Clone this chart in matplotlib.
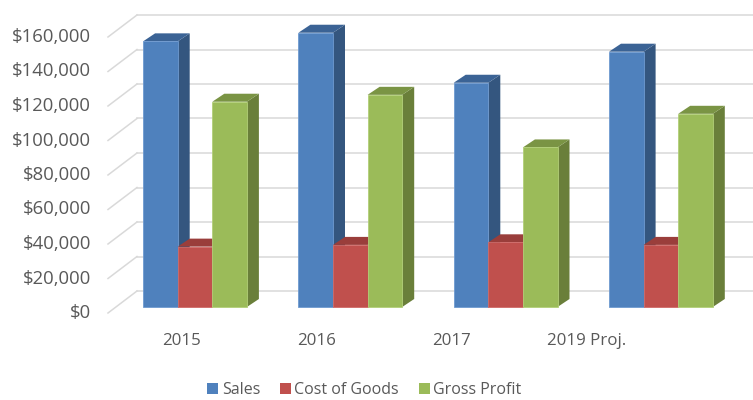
import matplotlib
matplotlib.use("Agg")
import matplotlib.pyplot as plt
from matplotlib.patches import Polygon, Patch

categories = ["2015", "2016", "2017", "2019 Proj."]
series_names = ["Sales", "Cost of Goods", "Gross Profit"]
sales = [154000, 159000, 130000, 148000]
cost_of_goods = [35000, 36000, 37500, 36000]
gross_profit = [119000, 123000, 92500, 112000]
y_ticks = [0, 20000, 40000, 60000, 80000, 100000, 120000, 140000, 160000]
y_tick_labels = ["$0", "$20,000", "$40,000", "$60,000", "$80,000",
                 "$100,000", "$120,000", "$140,000", "$160,000"]

series = [sales, cost_of_goods, gross_profit]
face_colors = ["#4F81BD", "#C0504D", "#9BBB59"]
side_colors = ["#34567F", "#8E3A38", "#6A7F3A"]
top_colors = ["#3B6395", "#9A3E3B", "#7A9444"]
edge_colors = ["#6F9AD0", "#D06A67", "#B2CF78"]

W, H = 753, 400
fig = plt.figure(figsize=(W / 100, H / 100), dpi=100)
ax = fig.add_axes([0, 0, 1, 1])
ax.set_axis_off()

PX_PER_UNIT = 155.3
PX_PER_DOLLAR = 1.725 / 1000
X0_PX = 195
Y0_PX = 307
ax.set_xlim(-X0_PX / PX_PER_UNIT, (W - X0_PX) / PX_PER_UNIT)
ax.set_ylim(-(H - Y0_PX) / PX_PER_DOLLAR, Y0_PX / PX_PER_DOLLAR)

def px_dx(p):
    return p / PX_PER_UNIT

def px_dy(p):
    return p / PX_PER_DOLLAR

back_x0 = px_dx(137 - X0_PX)
front_x0 = px_dx(108 - X0_PX)
back_off = px_dy(Y0_PX - 291)
front_off = px_dy(Y0_PX - 313)
x_right = px_dx(W - X0_PX)
grid_c = "#D9D9D9"
for v in y_ticks:
    ax.plot([back_x0, x_right], [v + back_off, v + back_off], color=grid_c, lw=1.1, zorder=1)
    ax.plot([front_x0, back_x0], [v + front_off, v + back_off], color=grid_c, lw=1.1, zorder=1)
for v, lab in zip(y_ticks, y_tick_labels):
    ax.text(px_dx(91 - X0_PX), v + front_off, lab, ha="right", va="center",
            fontsize=13.3, color="#595959", family="Open Sans")

bw = px_dx(34.6)
ddx = px_dx(12)
ddy = px_dy(8)
z = 2
for i in range(len(categories)):
    for k, vals in enumerate(series):
        h = vals[i]
        x0 = i + (k - 1.5) * bw
        x1 = x0 + bw
        front = Polygon([(x0, 0), (x1, 0), (x1, h), (x0, h)], closed=True,
                        facecolor=face_colors[k], edgecolor=edge_colors[k], lw=0.6,
                        zorder=z + 0.2)
        side = Polygon([(x1, 0), (x1 + ddx, ddy), (x1 + ddx, h + ddy), (x1, h)], closed=True,
                       facecolor=side_colors[k], edgecolor="none", zorder=z)
        top = Polygon([(x0, h), (x0 + ddx, h + ddy), (x1 + ddx, h + ddy), (x1, h)], closed=True,
                      facecolor=top_colors[k], edgecolor="none", zorder=z + 0.1)
        for p in (side, top, front):
            ax.add_patch(p)
        z += 1

label_step = 135.3 / PX_PER_UNIT
for i, c in enumerate(categories):
    ax.text(px_dx(181 - X0_PX) + i * label_step, px_dy(Y0_PX - 341), c,
            ha="center", va="center", fontsize=12.2, color="#595959", family="Open Sans")

handles = [Patch(facecolor=face_colors[k], edgecolor="none") for k in range(3)]
fig.legend(handles, series_names, loc="center", bbox_to_anchor=(0.484, 0.024),
           ncol=3, frameon=False, handlelength=0.7, handleheight=0.7,
           handletextpad=0.2, columnspacing=1.25,
           prop={"family": "Open Sans", "size": 11.5}, labelcolor="#595959")

fig.savefig("out.png", dpi=100, facecolor="white")
